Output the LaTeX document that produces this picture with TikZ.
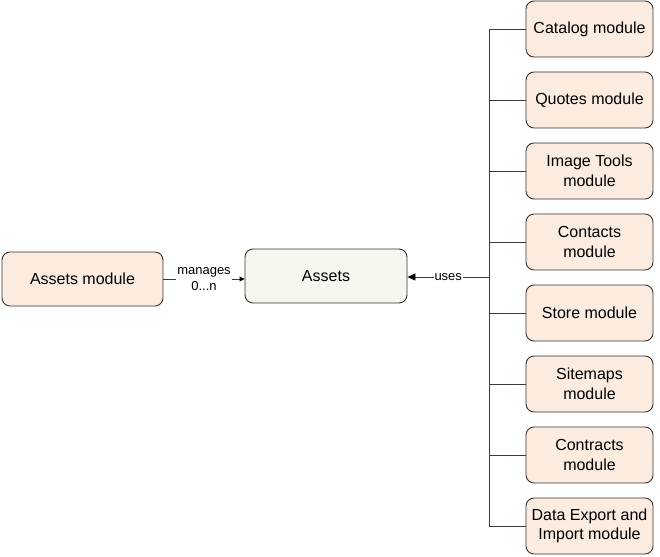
\documentclass[tikz,border=0pt]{standalone}
\usepackage{fontspec}
\setmainfont{Liberation Sans}
\usetikzlibrary{arrows.meta}
\definecolor{modfill}{HTML}{FCEBDF}
\definecolor{assetfill}{HTML}{F5F6EE}
\definecolor{edge}{HTML}{333333}
\definecolor{wire}{HTML}{3A3A3A}
\begin{document}
\begin{tikzpicture}[x=1pt,y=-1pt,
  box/.style={draw=edge, line width=0.9pt, rounded corners=8pt, minimum width=127pt, minimum height=56pt, align=center, inner sep=2pt, font=\fontsize{16}{19.5}\selectfont},
  modbox/.style={box, fill=modfill},
  assetbox/.style={box, fill=assetfill, minimum width=162pt, minimum height=54pt},
  wirestyle/.style={draw=wire, line width=0.9pt},
  lbl/.style={fill=white, inner sep=1pt, font=\fontsize{13}{15.5}\selectfont, align=center}
]
\useasboundingbox (0,0) rectangle (660,556);
\node[modbox, minimum width=161pt, minimum height=54pt] (am) at (82.5,279) {Assets module};
\node[assetbox] (as) at (326,276) {Assets};
\node[modbox] (m1) at (589.5,29) {Catalog module};
\node[modbox] (m2) at (589.5,100) {Quotes module};
\node[modbox] (m3) at (589.5,171) {Image Tools\\module};
\node[modbox] (m4) at (589.5,242) {Contacts\\module};
\node[modbox] (m5) at (589.5,313) {Store module};
\node[modbox] (m6) at (589.5,384) {Sitemaps\\module};
\node[modbox] (m7) at (589.5,455) {Contracts\\module};
\node[modbox] (m8) at (589.5,526) {Data Export and\\Import module};
\coordinate (tt) at (489,29);
\coordinate (tb) at (489,526);
\coordinate (tu) at (489,277);
\draw[wirestyle] (m1.west) -- (tt) -- (tb) -- (m8.west);
\foreach \i in {2,...,7} \draw[wirestyle] (m\i.west) -- (m\i.west -| tt);
\draw[wirestyle, -{Triangle[length=8pt,width=7pt,color=black]}] (tu) -- node[lbl, pos=0.5] {uses} (tu -| as.east);
\draw[wirestyle, -{Triangle[length=5pt,width=5pt,color=black]}] (am.east) -- node[lbl, pos=0.5] {manages\\0...n} (am.east -| as.west);
\end{tikzpicture}
\end{document}
